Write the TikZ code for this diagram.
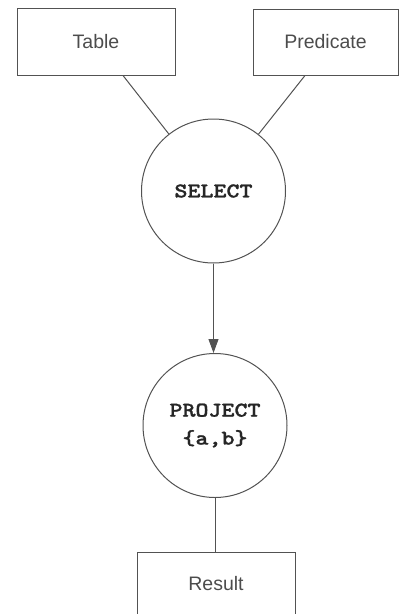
\documentclass[tikz,border=0pt]{standalone}
\usepackage{fontspec}
\setmainfont{Liberation Sans}
\newfontfamily\codefont{Latin Modern Mono Light}[FakeStretch=1.18,FakeBold=1.2]
\usetikzlibrary{arrows.meta}
\definecolor{linegray}{gray}{0.32}
\definecolor{textgray}{gray}{0.3}
\begin{document}
\begin{tikzpicture}[x=1pt,y=-1pt]
\tikzset{
  box/.style={draw=linegray, line width=1pt, inner sep=0pt, text=textgray,
    font=\fontsize{19.5}{22}\selectfont},
  op/.style={circle, draw=linegray, line width=1pt, inner sep=0pt,
    minimum size=144pt, align=center, text=black!85,
    font=\codefont\bfseries\fontsize{21}{28}\selectfont},
  link/.style={draw=linegray, line width=1pt},
  flow/.style={link, -{Triangle[length=14pt,width=10pt]}, fill=linegray}
}
\useasboundingbox (0,0) rectangle (399,614);

% inputs
\node[box, minimum width=158pt, minimum height=67pt] (table) at (96,41.5) {Table};
\node[box, minimum width=145pt, minimum height=66pt] (pred) at (325.5,42) {Predicate};

% operators
\node[op] (sel) at (213.5,191) {SELECT};
\node[op] (proj) at (215,425.5) {PROJECT\\\{a,b\}};

% output
\node[box, minimum width=158pt, minimum height=64pt] (result) at (216,584) {Result};

% connectors
\coordinate (ta) at ([xshift=27pt]table.south);
\coordinate (pa) at ([xshift=-20.5pt]pred.south);
\draw[link] (ta) -- (sel);
\draw[link] (pa) -- (sel);
\draw[flow] (sel.south) -- (sel.south |- proj.north);
\draw[link] (proj.south) -- (proj.south |- result.north);
\end{tikzpicture}
\end{document}
